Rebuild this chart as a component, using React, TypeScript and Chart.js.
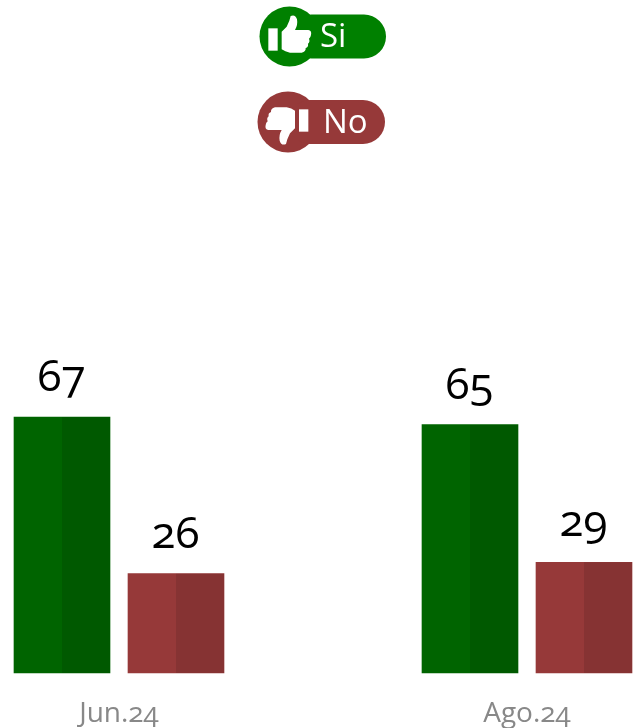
import React, { useEffect, useRef } from "react";
import { Chart, registerables } from "chart.js";

Chart.register(...registerables);

const categories = ["Jun.24", "Ago.24"];
const siValues = [67, 65];
const noValues = [26, 29];
const seriesNames = ["Si", "No"];
const FONT = '"Open Sans"';

const HAND = "M125 95 L140 80 L148 62 L152 48 Q166 42 171 58 Q174 75 165 90 L205 90 Q216 92 213 105 Q212 112 207 116 Q211 125 204 131 Q206 141 197 144 Q198 155 185 158 L150 158 Q135 155 125 148 Z";

const twoTone = {
  id: "twoTone",
  afterDatasetsDraw(chart: any) {
    const { ctx } = chart;
    ctx.save();
    ctx.fillStyle = "rgba(0,0,0,0.1)";
    chart.data.datasets.forEach((_: any, i: number) => {
      chart.getDatasetMeta(i).data.forEach((bar: any) => {
        ctx.fillRect(bar.x, bar.y, bar.width / 2, bar.base - bar.y);
      });
    });
    ctx.restore();
  },
};

const valueLabels = {
  id: "valueLabels",
  afterDatasetsDraw(chart: any) {
    const { ctx } = chart;
    ctx.save();
    ctx.font = `44px ${FONT}`;
    ctx.fillStyle = "#000";
    ctx.textAlign = "center";
    ctx.textBaseline = "alphabetic";
    chart.data.datasets.forEach((ds: any, i: number) => {
      chart.getDatasetMeta(i).data.forEach((bar: any, j: number) => {
        ctx.fillText(String(ds.data[j]), bar.x - 0.5, bar.y - 26);
      });
    });
    ctx.restore();
  },
};

const badges = {
  id: "badges",
  afterDraw(chart: any) {
    const { ctx } = chart;
    const hand = new Path2D(HAND);
    const draw = (
      color: string, label: string, cx: number, cy: number, r: number,
      pillTop: number, pillBottom: number, pillRight: number, textX: number, baseline: number, down: boolean
    ) => {
      ctx.save();
      ctx.fillStyle = color;
      ctx.beginPath();
      ctx.arc(cx, cy, r, 0, Math.PI * 2);
      ctx.fill();
      ctx.beginPath();
      ctx.roundRect(cx, pillTop, pillRight - cx, pillBottom - pillTop, (pillBottom - pillTop) / 2);
      ctx.fill();
      ctx.fillStyle = "#fff";
      ctx.font = `33px ${FONT}`;
      ctx.textAlign = "left";
      ctx.textBaseline = "alphabetic";
      ctx.fillText(label, textX, baseline);
      ctx.save();
      if (down) {
        ctx.translate(240 + 290 / 3, 480 / 3);
        ctx.scale(-1 / 3, -1 / 3);
      } else {
        ctx.translate(240, 0);
        ctx.scale(1 / 3, 1 / 3);
      }
      ctx.fill(hand);
      ctx.fillRect(85, 85, 28, 67);
      ctx.restore();
      ctx.restore();
    };
    draw("#008000", chart.data.datasets[0].label, 289.5, 36.5, 30, 14.5, 58.5, 386, 320, 47, false);
    draw("#963939", chart.data.datasets[1].label, 288, 122, 30.5, 100, 144, 385, 323, 133, true);
  },
};

export default function App() {
  const ref = useRef<HTMLCanvasElement>(null);
  useEffect(() => {
    document.body.style.margin = "0";
    const canvas = ref.current!;
    (canvas.style as any).fontFeatureSettings = '"onum"';
    const chart = new Chart(canvas, {
      type: "bar",
      data: {
        labels: categories,
        datasets: [
          { label: seriesNames[0], data: siValues, backgroundColor: "#006400", barThickness: 114, maxBarThickness: 96, clip: false as any },
          { label: seriesNames[1], data: noValues, backgroundColor: "#963939", barThickness: 114, maxBarThickness: 96, clip: false as any },
        ],
      },
      options: {
        animation: false,
        responsive: false,
        layout: { padding: { left: 119, right: 106, top: 291, bottom: 0 } },
        plugins: { legend: { display: false }, tooltip: { enabled: false } },
        scales: {
          x: {
            type: "category",
            offset: false,
            grid: { display: false },
            border: { display: false },
            afterFit(scale: any) { scale.height = 55; },
            ticks: {
              autoSkip: false,
              maxRotation: 0,
              minRotation: 0,
              color: "#888888",
              padding: 16,
              font: { family: "Open Sans", size: 28 },
            },
          },
          y: { display: false, min: 0, max: 100 },
        },
      },
      plugins: [twoTone, valueLabels, badges],
    });
    return () => chart.destroy();
  }, []);
  return <canvas ref={ref} width={633} height={728} style={{ display: "block" }} />;
}
